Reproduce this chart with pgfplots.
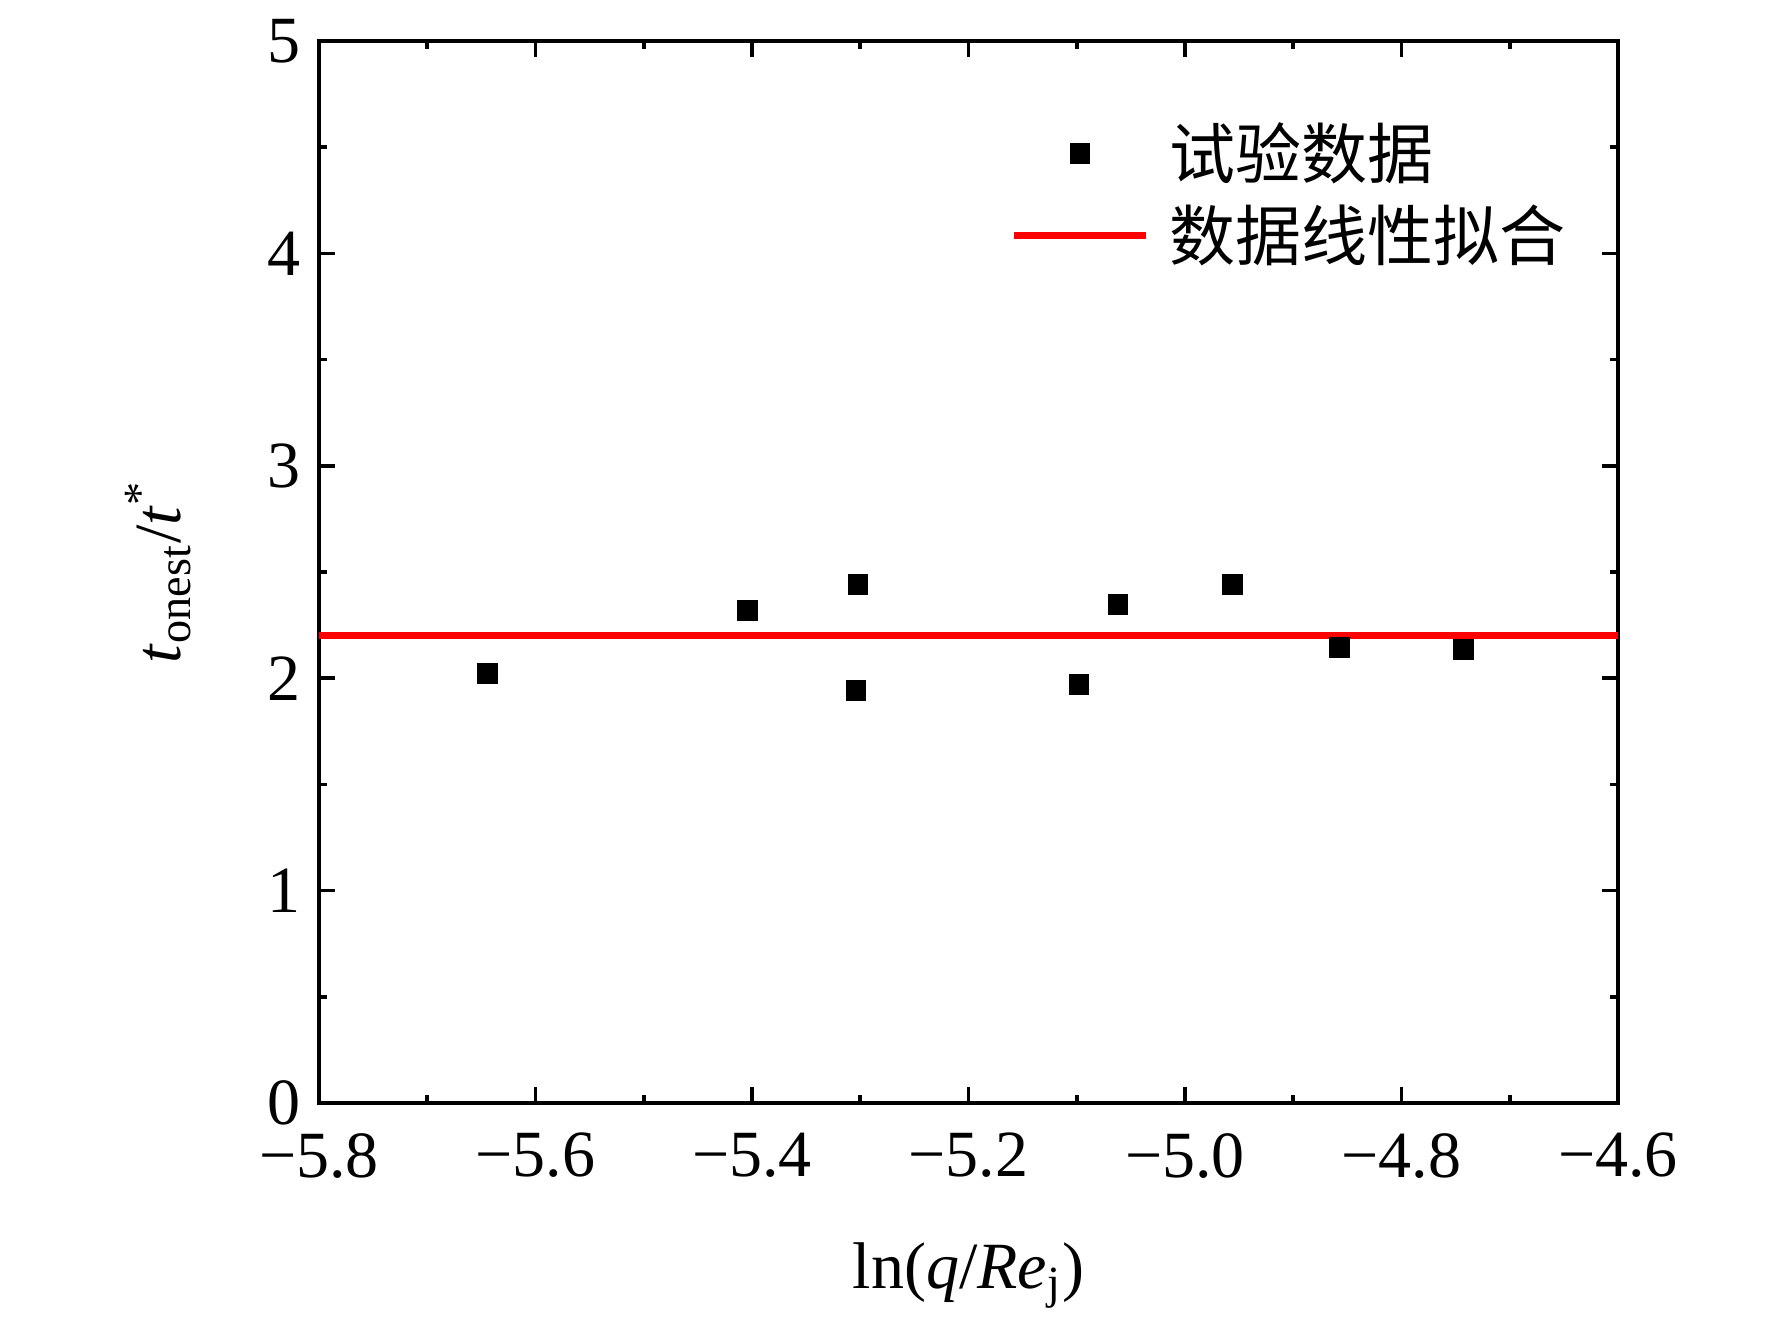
\documentclass[border=0pt]{standalone}
\usepackage{fontspec}
\setmainfont{Liberation Serif}
\newfontfamily\cjk{Noto Sans CJK SC}
\usepackage{pgfplots}
\pgfplotsset{compat=1.18}
\usetikzlibrary{calc}
\pgfplotsset{
  markleg/.style={legend image code/.code={\draw[#1] plot coordinates {(16.5pt,0pt)};}},
  lineleg/.style={legend image code/.code={\draw[#1] (0pt,0pt) -- (33pt,0pt);}},
}
\begin{document}
\begin{tikzpicture}
\begin{axis}[
  scale only axis,
  width=324.75pt, height=265.5pt,
  xmin=-5.8, xmax=-4.6, ymin=0, ymax=5,
  xtick={-5.8,-5.6,-5.4,-5.2,-5.0,-4.8,-4.6},
  xticklabels={−5.8,−5.6,−5.4,−5.2,−5.0,−4.8,−4.6},
  ytick={0,1,2,3,4,5},
  yticklabels={0,1,2,3,4,5},
  minor x tick num=1, minor y tick num=1,
  tick align=inside,
  major tick length=4pt, minor tick length=2pt,
  tick style={line width=0.9pt, black},
  axis line style={line width=0.9pt},
  ticklabel style={font=\fontsize{16.5}{18}\selectfont},
  xticklabel style={yshift=-4pt},
  yticklabel style={xshift=-1pt},
  xlabel={ln(\textit{q}/\textit{Re}\textsubscript{j})},
  ylabel={\textit{t}\textsubscript{onest}/\textit{t}\textsuperscript{*}},
  label style={font=\fontsize{16.5}{18}\selectfont},
  xlabel style={at={(axis description cs:0.5,-0.1625)}, anchor=center},
  ylabel style={at={(axis description cs:-0.124,0.5)}, anchor=center},
  legend style={draw=none, fill=none, at={(rel axis cs:0.5316,0.924)}, anchor=north west,
    inner sep=0pt, row sep=5.1pt,
    nodes={inner sep=0pt},
    font=\cjk\fontsize{16.5}{20}\selectfont,
    /tikz/every odd column/.append style={column sep=5pt}},
  legend cell align=left,
]
\addplot[only marks, mark=square*, mark size=2.4pt, black, markleg]
  coordinates {
  (-5.644,2.022) (-5.404,2.32) (-5.302,2.44) (-5.304,1.943) (-5.098,1.97)
  (-5.062,2.346) (-4.956,2.44) (-4.857,2.144) (-4.743,2.134)
};
\addlegendentry{试验数据}
\addplot[red, line width=1.8pt, no marks, lineleg]
  coordinates {(-5.8,2.2) (-4.6,2.2)};
\addlegendentry{数据线性拟合}
\end{axis}
\pgfresetboundingbox
\path[use as bounding box] ($(current axis.south west)+(-79.75pt,-55pt)$) rectangle ($(current axis.north east)+(38.5pt,10.25pt)$);
\end{tikzpicture}
\end{document}
